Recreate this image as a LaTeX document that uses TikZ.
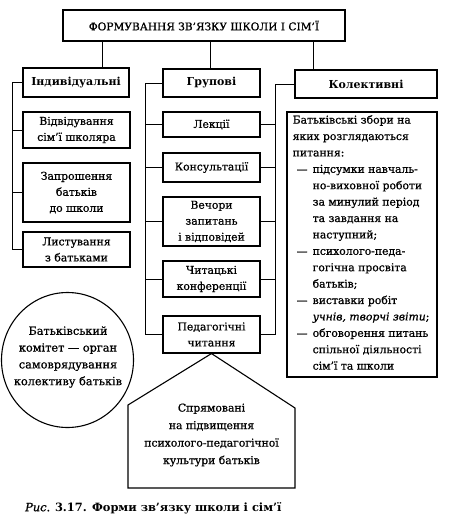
\documentclass[tikz,border=0pt]{standalone}
\usepackage{fontspec}
\setmainfont{DejaVu Serif}[UprightFeatures={FakeBold=0.9},ItalicFeatures={FakeBold=0.9}]
\usetikzlibrary{shapes.geometric}
\newcommand\fsz{\fontsize{10.8}{16}\selectfont}
\begin{document}
\begin{tikzpicture}[x=1pt,y=-1pt,
  every node/.style={inner sep=0pt},
  box/.style={draw, line width=1.1pt, align=center, font=\fsz},
  hbox/.style={box, font=\fontsize{11}{16}\selectfont\bfseries},
  con/.style={line width=1pt},
  txt/.style={align=center, font=\fsz}]
\useasboundingbox (0,0) rectangle (448,528);
% title
\node[box, minimum width=282pt, minimum height=31pt, font=\fontsize{10.6}{14}\selectfont] (title) at (204,25.5) {ФОРМУВАННЯ ЗВ'ЯЗКУ ШКОЛИ І СІМ'Ї};
% heads
\node[hbox, minimum width=106pt, minimum height=29pt] (ind) at (76,82.5) {Індивідуальні};
\node[hbox, minimum width=97pt, minimum height=28pt] (grp) at (211.5,83) {Групові};
\node[hbox, minimum width=142pt, minimum height=28pt] (kol) at (366,84) {Колективні};
% individual
\node[box, minimum width=107pt, minimum height=36pt] (vidv) at (76.5,130) {Відвідування\\сім'ї школяра};
\node[box, minimum width=107pt, minimum height=59pt] (zapr) at (76.5,192.5) {Запрошення\\батьків\\до школи};
\node[box, minimum width=107pt, minimum height=35pt] (lyst) at (76.5,249.5) {Листування\\з батьками};
% group
\node[box, minimum width=97pt, minimum height=25pt] (lek) at (211.5,124.5) {Лекції};
\node[box, minimum width=97pt, minimum height=29pt] (kons) at (211.5,167.5) {Консультації};
\node[box, minimum width=97pt, minimum height=49pt] (vech) at (211.5,221.5) {Вечори\\запитань\\і відповідей};
\node[box, minimum width=97pt, minimum height=36pt] (chyt) at (211.5,279) {Читацькі\\конференції};
\node[box, minimum width=97pt, minimum height=37pt] (ped) at (211.5,334.5) {Педагогічні\\читання};
% collective big box
\node[draw, line width=1.1pt, minimum width=150pt, minimum height=265pt] (big) at (362,244.5) {};
\node[anchor=north west, align=left, font=\fontsize{10.8}{16.4}\selectfont] (bigtxt) at (292.5,115) {%
Батьківські збори на\\
яких розглядаються\\
питання:\\
\hspace*{4pt}\makebox[16pt][l]{—}підсумки навчаль-\\
\hspace*{20pt}но-виховної роботи\\
\hspace*{20pt}за минулий період\\
\hspace*{20pt}та завдання на\\
\hspace*{20pt}наступний;\\
\hspace*{4pt}\makebox[16pt][l]{—}психолого-педа-\\
\hspace*{20pt}гогічна просвіта\\
\hspace*{20pt}батьків;\\
\hspace*{4pt}\makebox[16pt][l]{—}виставки робіт\\
\hspace*{20pt}\textit{учнів, творчі звіти};\\
\hspace*{4pt}\makebox[16pt][l]{—}обговорення питань\\
\hspace*{20pt}спільної діяльності\\
\hspace*{20pt}сім'ї та школи};
% circle
\node[draw, ellipse, line width=1.1pt, minimum width=132pt, minimum height=135pt] (circ) at (67.5,360) {};
\node[align=center, font=\fontsize{11.3}{16.8}\selectfont] (circtxt) at (68,357) {Батьківський\\комітет — орган\\самоврядування\\колективу батьків};
% pentagon
\coordinate (pr) at (295,408);
\coordinate (pbr) at (295,488);
\coordinate (pbl) at (128,488);
\coordinate (pl) at (128,405);
\draw[line width=1.1pt, line join=miter] (ped.south) -- (pr) -- (pbr) -- (pbl) -- (pl) -- cycle;
\node[align=center, font=\fontsize{10.8}{17.5}\selectfont] (sprtxt) at (211.5,435) {Спрямовані\\на підвищення\\психолого-педагогічної\\культури батьків};
% connectors from title
\draw[con] (title.south -| 102,0) -- (ind.north -| 102,0);
\draw[con] (title.south -| 210,0) -- (grp.north -| 210,0);
\draw[con] (title.south -| 313,0) -- (kol.north -| 313,0);
% left bracket
\coordinate (lb) at (12,0);
\draw[con] (ind.west) -- (ind.west -| lb) -- (lyst.west -| lb) -- (lyst.west);
\draw[con] (vidv.west -| lb) -- (vidv.west);
\draw[con] (zapr.west -| lb) -- (zapr.west);
% middle bracket
\coordinate (mb) at (145,0);
\draw[con] (grp.west) -- (grp.west -| mb) -- (ped.west -| mb) -- (ped.west);
\draw[con] (lek.west -| mb) -- (lek.west);
\draw[con] (kons.west -| mb) -- (kons.west);
\draw[con] (vech.west -| mb) -- (vech.west);
\draw[con] (chyt.west -| mb) -- (chyt.west);
% right bracket
\coordinate (rb) at (275,0);
\draw[con] (kol.west) -- (kol.west -| rb) -- (ped.east -| rb) -- (ped.east);
\draw[con] (lek.east) -- (lek.east -| rb);
\draw[con] (kons.east) -- (kons.east -| rb);
\draw[con] (vech.east) -- (vech.east -| rb);
\draw[con] (chyt.east) -- (chyt.east -| rb);
% caption
\node[anchor=west, font=\fontsize{11.4}{13}\selectfont] (cap) at (25,508) {\textit{Рис}. \textbf{3.17. Форми зв'язку школи і сім'ї}};
\end{tikzpicture}
\end{document}
